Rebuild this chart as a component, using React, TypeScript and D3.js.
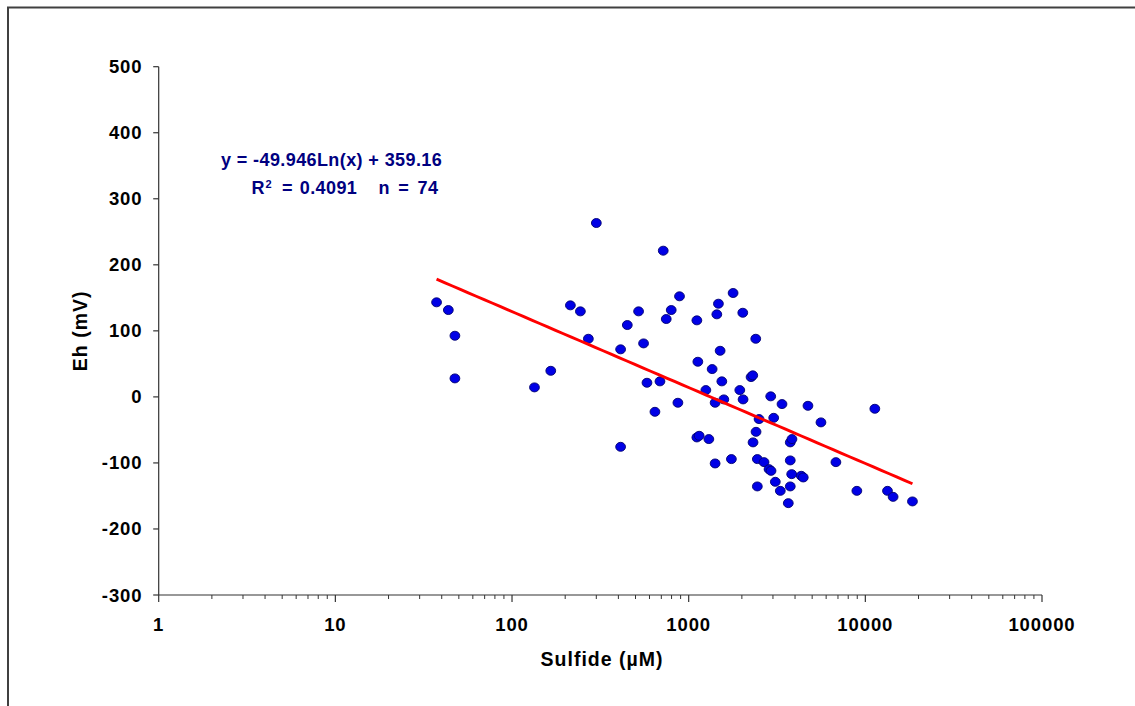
import React from "react";
import * as d3 from "d3";

// Sulfide (µM) and Eh (mV), n = 74
const sulfide: number[] = [
  37.4, 43.6, 47.5, 47.5, 134, 165.7, 214, 243.8, 270.5, 300.1,
  411.8, 411.8, 449.3, 520.5, 555.4, 580.6, 644.2, 687.7, 717.8, 746.4,
  796.4, 868.9, 887.3, 1112.6, 1127, 1112.6, 1146.6, 1251, 1300.6, 1357.6,
  1411.5, 1411.5, 1443.1, 1473.6, 1506.6, 1540.3, 1580.9, 1745, 1784, 1947,
  2024, 2032, 2255, 2305, 2314, 2397, 2406, 2447, 2447, 2502,
  2670, 2850, 2925, 2913, 3029, 3093, 3301, 3375, 3663, 3759,
  3843, 3759, 3829, 3759, 4338, 4453, 4733, 5607, 6814, 8954,
  11316, 13347, 14360, 18480,
];
const eh: number[] = [
  143.2, 131.5, 92.6, 28, 14.4, 39.5, 138.6, 129.5, 88, 263.3,
  72, -75.6, 108.8, 129.5, 81, 21.4, -22.6, 23.5, 221.4, 117.9,
  131.5, -8.9, 152.3, 115.9, 53.2, -61.4, -58.9, 10.3, -63.9, 42.1,
  -8.9, -100.8, 125, 141.1, 69.8, 23.5, -3.8, -94.2, 157.3, 10.3,
  127.4, -3.8, 30, 32.6, -68.9, 88, -52.9, -94.2, -135.6, -33.6,
  -98.8, -109.4, -112, 0.8, -31.7, -128.6, -142.3, -10.9, -160.9, -68.9,
  -63.9, -96.2, -117, -135.6, -119.5, -122, -13.5, -38.6, -98.8, -142.3,
  -18, -142.3, -151.4, -158.3,
];
const yTicks: number[] = [-300, -200, -100, 0, 100, 200, 300, 400, 500];
const xMajorTicks: number[] = [1, 10, 100, 1000, 10000, 100000];
const trendSlope = -49.946;
const trendIntercept = 359.16;
const r2Text = "0.4091";
const nText = "74";

const FONT = "'Liberation Sans', Arial, sans-serif";

export default function App() {
  const W = 1135;
  const H = 706;
  const left = 158.7;
  const right = 1042;
  const top = 66.7;
  const bottom = 595;

  const x = d3.scaleLog().domain([1, 100000]).range([left, right]);
  const y = d3.scaleLinear().domain([-300, 500]).range([bottom, top]);

  const minorTicks: number[] = [];
  for (let d = 1; d < 100000; d *= 10) {
    for (let k = 2; k <= 9; k++) minorTicks.push(d * k);
  }

  const xMin = d3.min(sulfide) as number;
  const xMax = d3.max(sulfide) as number;
  const trendXs = d3.range(0, 61).map((i) =>
    Math.exp(Math.log(xMin) + (i / 60) * (Math.log(xMax) - Math.log(xMin)))
  );
  const line = d3
    .line<number>()
    .x((v) => x(v))
    .y((v) => y(trendSlope * Math.log(v) + trendIntercept));

  const axisColor = "#333";
  const pts = sulfide.map((s, i) => ({ s, e: eh[i] }));

  const eqProps = {
    fontFamily: FONT,
    fontWeight: "bold" as const,
    fontSize: 18,
    letterSpacing: 0.4,
    fill: "#000080",
  };

  return (
    <>
      <style>{"body{margin:0;overflow:hidden}"}</style>
      <svg width={W} height={H} style={{ display: "block", background: "#fff" }}>
        {/* outer frame */}
        <line x1={7} y1={7.5} x2={W} y2={7.5} stroke="#404040" strokeWidth={2} />
        <line x1={8} y1={7} x2={8} y2={H} stroke="#404040" strokeWidth={2} />

        {/* y axis */}
        <line x1={left} y1={top} x2={left} y2={bottom} stroke={axisColor} strokeWidth={1.2} />
        {yTicks.map((t) => (
          <g key={"yt" + t}>
            <line x1={left - 5.5} x2={left} y1={y(t)} y2={y(t)} stroke={axisColor} strokeWidth={1.2} />
            <text
              x={142.5}
              y={y(t) + 6.5}
              textAnchor="end"
              fontFamily={FONT}
              fontWeight="bold"
              fontSize={18.5}
              letterSpacing={0.9}
              fill="#000"
            >
              {t}
            </text>
          </g>
        ))}

        {/* x axis */}
        <line x1={left} y1={bottom} x2={right} y2={bottom} stroke={axisColor} strokeWidth={1.2} />
        {minorTicks.map((t) => (
          <line key={"xm" + t} x1={x(t)} x2={x(t)} y1={bottom} y2={bottom + 4} stroke={axisColor} strokeWidth={1} />
        ))}
        {xMajorTicks.map((t) => (
          <g key={"xt" + t}>
            <line x1={x(t)} x2={x(t)} y1={bottom} y2={bottom + 7} stroke={axisColor} strokeWidth={1.2} />
            <text
              x={x(t)}
              y={631}
              textAnchor="middle"
              fontFamily={FONT}
              fontWeight="bold"
              fontSize={18.5}
              letterSpacing={0.9}
              fill="#000"
            >
              {t}
            </text>
          </g>
        ))}

        {/* axis titles */}
        <text
          x={602}
          y={666}
          textAnchor="middle"
          fontFamily={FONT}
          fontWeight="bold"
          fontSize={19.5}
          letterSpacing={1}
          fill="#000"
        >
          Sulfide (µM)
        </text>
        <text
          transform={`translate(87,${(top + bottom) / 2}) rotate(-90)`}
          textAnchor="middle"
          fontFamily={FONT}
          fontWeight="bold"
          fontSize={19.5}
          letterSpacing={1}
          fill="#000"
        >
          Eh (mV)
        </text>

        {/* points */}
        {pts.map((p, i) => (
          <ellipse
            key={"p" + i}
            cx={x(p.s)}
            cy={y(p.e)}
            rx={4.9}
            ry={4.5}
            fill="#0000e6"
            stroke="#000070"
            strokeWidth={0.9}
          />
        ))}

        {/* trend line */}
        <path d={line(trendXs) || ""} fill="none" stroke="#ff0000" strokeWidth={2.9} />

        {/* equation */}
        <text x={221} y={165.7} {...eqProps}>
          y = -49.946Ln(x) + 359.16
        </text>
        <text x={251.5} y={194} {...eqProps}>R</text>
        <text x={265.5} y={187.5} {...eqProps} fontSize={11}>2</text>
        <text x={282} y={194} {...eqProps} wordSpacing={1.5}>{`= ${r2Text}`}</text>
        <text x={378.5} y={194} {...eqProps} wordSpacing={3}>{`n = ${nText}`}</text>
      </svg>
    </>
  );
}
